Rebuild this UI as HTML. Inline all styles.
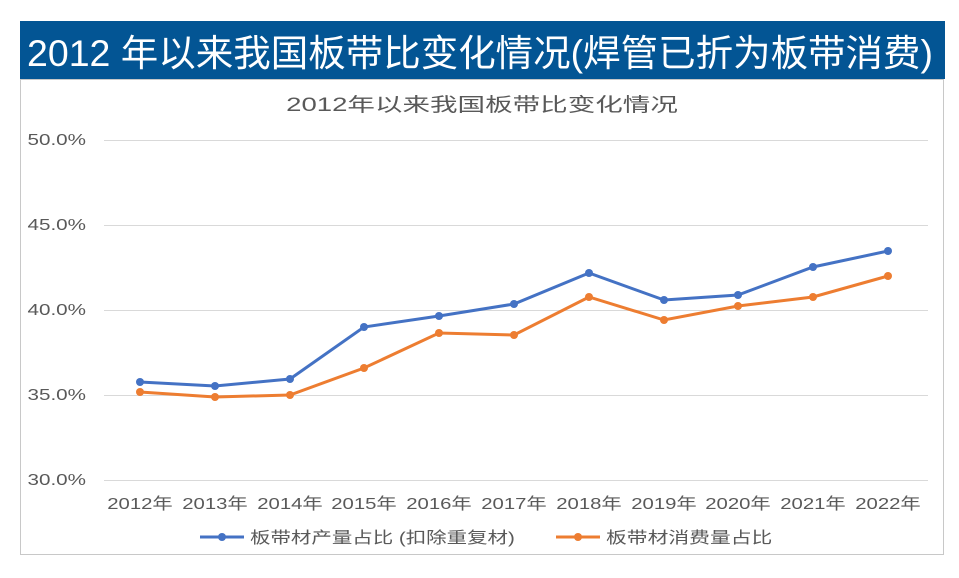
<!DOCTYPE html>
<html><head><meta charset="utf-8"><style>
body{margin:0;width:959px;height:573px;background:#fff;overflow:hidden;font-family:"Liberation Sans","Noto Sans CJK SC",sans-serif}
</style></head><body>
<svg width="959" height="573" xmlns="http://www.w3.org/2000/svg" font-family="Liberation Sans, Noto Sans CJK SC, sans-serif">
<rect x="20" y="21" width="925" height="58" fill="#035594"/>
<text x="27" y="66" font-size="37" fill="#fff" textLength="906" lengthAdjust="spacingAndGlyphs">2012 年以来我国板带比变化情况(焊管已折为板带消费)</text>
<rect x="20.5" y="79.5" width="923" height="475" fill="#fff" stroke="#c8c8c8"/>
<g transform="translate(482,111) scale(1.45,1)"><text font-size="19" fill="#595959" text-anchor="middle">2012年以来我国板带比变化情况</text></g>
<g stroke="#d9d9d9" stroke-width="1">
<line x1="104" x2="928" y1="140.5" y2="140.5"/><line x1="104" x2="928" y1="225.5" y2="225.5"/><line x1="104" x2="928" y1="310.5" y2="310.5"/><line x1="104" x2="928" y1="395.5" y2="395.5"/><line x1="104" x2="928" y1="480.5" y2="480.5"/>
</g>
<g font-size="16" fill="#595959" text-anchor="end">
<g transform="translate(86,145) scale(1.29,1)"><text>50.0%</text></g>
<g transform="translate(86,230) scale(1.29,1)"><text>45.0%</text></g>
<g transform="translate(86,315) scale(1.29,1)"><text>40.0%</text></g>
<g transform="translate(86,400) scale(1.29,1)"><text>35.0%</text></g>
<g transform="translate(86,485) scale(1.29,1)"><text>30.0%</text></g>
</g>
<g font-size="16" fill="#595959" text-anchor="middle">
<g transform="translate(140,509) scale(1.27,1)"><text>2012年</text></g>
<g transform="translate(215,509) scale(1.27,1)"><text>2013年</text></g>
<g transform="translate(290,509) scale(1.27,1)"><text>2014年</text></g>
<g transform="translate(364,509) scale(1.27,1)"><text>2015年</text></g>
<g transform="translate(439,509) scale(1.27,1)"><text>2016年</text></g>
<g transform="translate(514,509) scale(1.27,1)"><text>2017年</text></g>
<g transform="translate(589,509) scale(1.27,1)"><text>2018年</text></g>
<g transform="translate(664,509) scale(1.27,1)"><text>2019年</text></g>
<g transform="translate(738,509) scale(1.27,1)"><text>2020年</text></g>
<g transform="translate(813,509) scale(1.27,1)"><text>2021年</text></g>
<g transform="translate(888,509) scale(1.27,1)"><text>2022年</text></g>
</g>
<polyline fill="none" stroke="#4472c4" stroke-width="3" points="140,382 215,386 290,379 364,327 439,316 514,304 589,273 664,300 738,295 813,267 888,251"/>
<polyline fill="none" stroke="#ed7d31" stroke-width="3" points="140,392 215,397 290,395 364,368 439,333 514,335 589,297 664,320 738,306 813,297 888,276"/>
<g fill="#4472c4"><circle cx="140" cy="382" r="4"/><circle cx="215" cy="386" r="4"/><circle cx="290" cy="379" r="4"/><circle cx="364" cy="327" r="4"/><circle cx="439" cy="316" r="4"/><circle cx="514" cy="304" r="4"/><circle cx="589" cy="273" r="4"/><circle cx="664" cy="300" r="4"/><circle cx="738" cy="295" r="4"/><circle cx="813" cy="267" r="4"/><circle cx="888" cy="251" r="4"/></g>
<g fill="#ed7d31"><circle cx="140" cy="392" r="4"/><circle cx="215" cy="397" r="4"/><circle cx="290" cy="395" r="4"/><circle cx="364" cy="368" r="4"/><circle cx="439" cy="333" r="4"/><circle cx="514" cy="335" r="4"/><circle cx="589" cy="297" r="4"/><circle cx="664" cy="320" r="4"/><circle cx="738" cy="306" r="4"/><circle cx="813" cy="297" r="4"/><circle cx="888" cy="276" r="4"/></g>
<line x1="200" x2="244" y1="537" y2="537" stroke="#4472c4" stroke-width="3"/><circle cx="222" cy="537" r="4" fill="#4472c4"/>
<g transform="translate(250,543) scale(1.28,1)"><text font-size="16" fill="#595959">板带材产量占比 (扣除重复材)</text></g>
<line x1="556" x2="600" y1="537" y2="537" stroke="#ed7d31" stroke-width="3"/><circle cx="578" cy="537" r="4" fill="#ed7d31"/>
<g transform="translate(606,543) scale(1.3,1)"><text font-size="16" fill="#595959">板带材消费量占比</text></g>
</svg>
</body></html>
